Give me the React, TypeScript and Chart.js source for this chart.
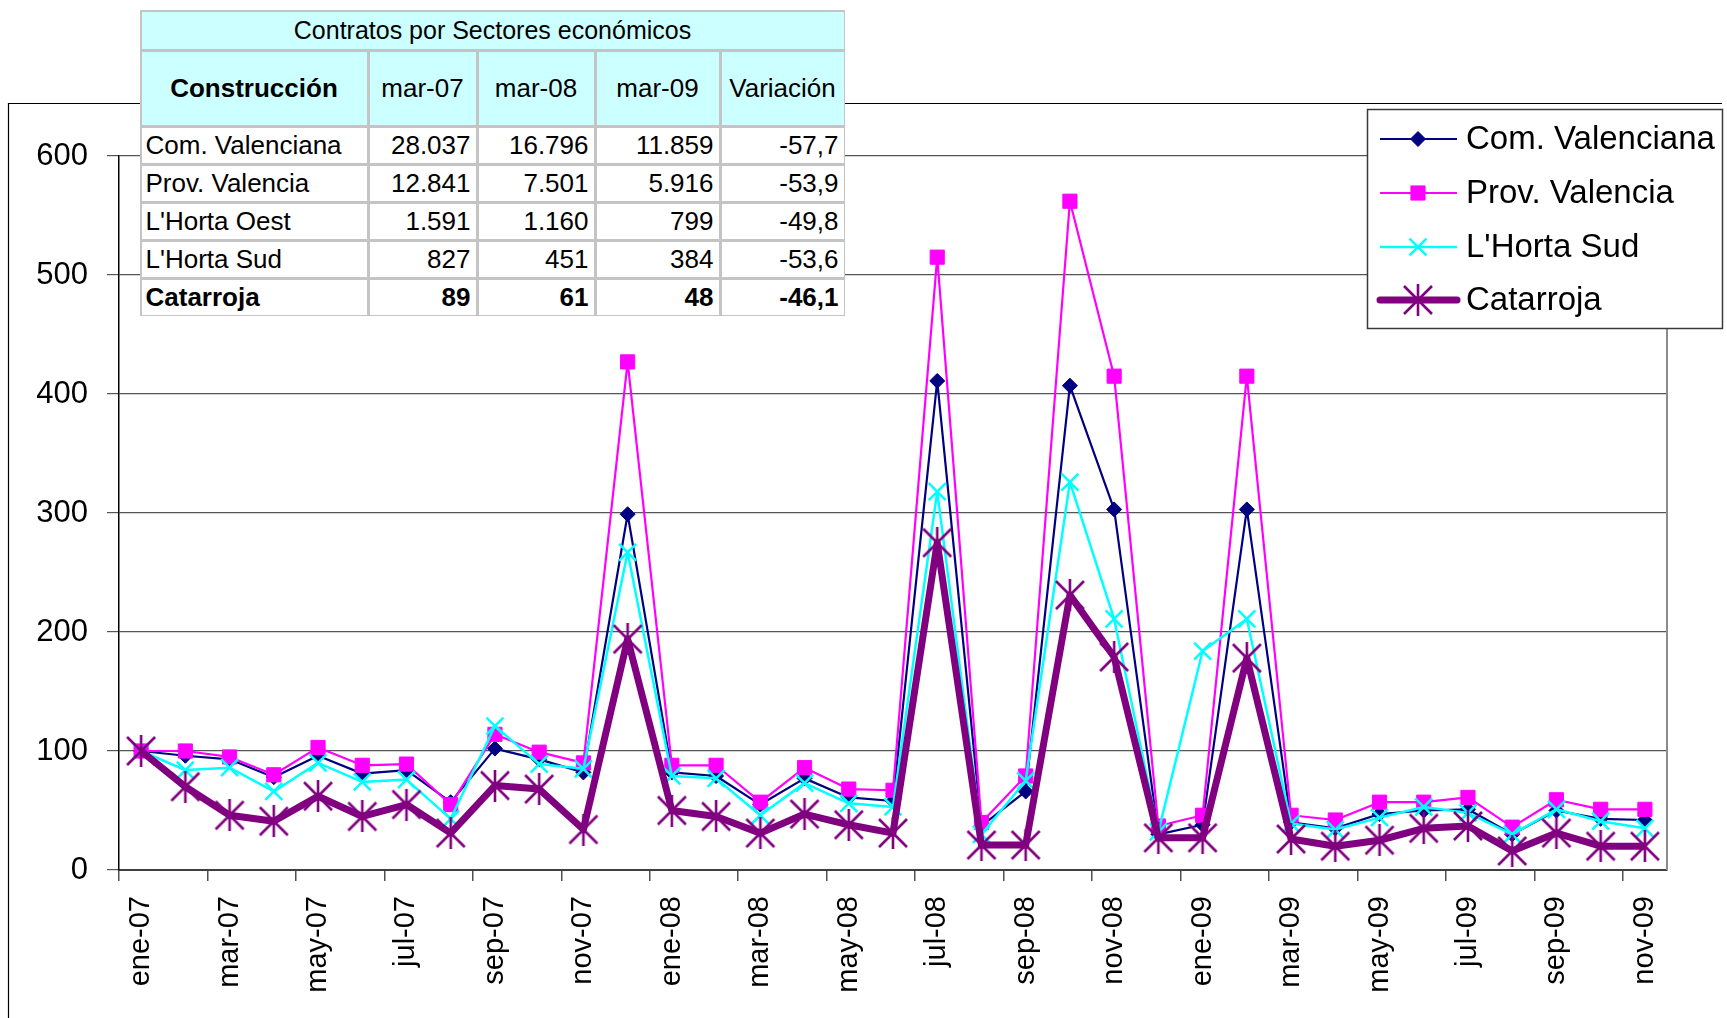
import React, { useEffect, useRef } from 'react';
import { Chart, registerables } from 'chart.js';
import { drawPoint } from 'chart.js/helpers';

Chart.register(...registerables);

// ---------- data ----------
const months = [
  'ene-07', 'feb-07', 'mar-07', 'abr-07', 'may-07', 'jun-07', 'jul-07', 'ago-07', 'sep-07', 'oct-07', 'nov-07', 'dic-07',
  'ene-08', 'feb-08', 'mar-08', 'abr-08', 'may-08', 'jun-08', 'jul-08', 'ago-08', 'sep-08', 'oct-08', 'nov-08', 'dic-08',
  'ene-09', 'feb-09', 'mar-09', 'abr-09', 'may-09', 'jun-09', 'jul-09', 'ago-09', 'sep-09', 'oct-09', 'nov-09',
];

const comValenciana = [100, 96, 93, 78, 96, 81, 84, 57, 102, 93, 82, 299, 82, 79, 55, 77, 61, 58, 411, 37, 66, 407, 303, 30, 38, 303, 40, 35, 47, 50, 51, 30, 50, 43, 42];
const provValencia = [100, 100, 95, 80, 103, 88, 89, 55, 114, 99, 90, 427, 88, 88, 57, 86, 68, 67, 515, 40, 79, 562, 415, 37, 46, 415, 46, 42, 57, 57, 61, 36, 59, 51, 51];
const hortaSud = [100, 84, 86, 66, 90, 74, 76, 43, 121, 89, 85, 267, 79, 77, 46, 73, 56, 53, 318, 30, 75, 326, 211, 32, 184, 211, 39, 34, 44, 53, 48, 30, 51, 41, 35];
const catarroja = [100, 70, 46, 41, 62, 45, 55, 31, 71, 68, 34, 194, 50, 45, 31, 47, 38, 31, 275, 21, 21, 231, 179, 27, 27, 178, 26, 20, 25, 35, 37, 16, 31, 20, 20];

const seriesNames = ['Com. Valenciana', 'Prov. Valencia', "L'Horta Sud", 'Catarroja'];
const yTicks = [0, 100, 200, 300, 400, 500, 600];

// table
const tableTitle = 'Contratos por Sectores económicos';
const tableHeader = ['Construcción', 'mar-07', 'mar-08', 'mar-09', 'Variación'];
const rowNames = ['Com. Valenciana', 'Prov. Valencia', "L'Horta Oest", "L'Horta Sud", 'Catarroja'];
const colMar07 = ['28.037', '12.841', '1.591', '827', '89'];
const colMar08 = ['16.796', '7.501', '1.160', '451', '61'];
const colMar09 = ['11.859', '5.916', '799', '384', '48'];
const colVariacion = ['-57,7', '-53,9', '-49,8', '-53,6', '-46,1'];

// ---------- layout ----------
const W = 1727;
const H = 1018;
const FONT = '"Liberation Sans", Arial, sans-serif';

const colEdges = [140, 368, 477, 595, 720, 845];
const rowEdges = [10, 50, 126, 164, 202, 240, 278, 316];

function makeStar(color: string) {
  const c = document.createElement('canvas');
  c.width = 32;
  c.height = 32;
  const g = c.getContext('2d')!;
  g.strokeStyle = color;
  g.lineWidth = 2.6;
  g.lineCap = 'butt';
  g.beginPath();
  g.moveTo(2, 2); g.lineTo(30, 30);
  g.moveTo(30, 2); g.lineTo(2, 30);
  g.moveTo(16, 0); g.lineTo(16, 32);
  g.stroke();
  return c;
}

const decorPlugin = {
  id: 'excelDecor',
  beforeDraw(chart: any) {
    const ctx = chart.ctx;
    ctx.save();
    ctx.fillStyle = '#ffffff';
    ctx.fillRect(0, 0, chart.width, chart.height);
    ctx.strokeStyle = '#000000';
    ctx.lineWidth = 1.2;
    ctx.beginPath();
    ctx.moveTo(8.5, chart.height + 10);
    ctx.lineTo(8.5, 103.5);
    ctx.lineTo(1722, 103.5);
    ctx.stroke();
    ctx.restore();
  },
  afterDraw(chart: any) {
    const { ctx, chartArea } = chart;
    ctx.save();
    // plot-area right border
    ctx.strokeStyle = '#8c8c8c';
    ctx.lineWidth = 2;
    ctx.beginPath();
    ctx.moveTo(chartArea.right, chartArea.top);
    ctx.lineTo(chartArea.right, chartArea.bottom);
    ctx.stroke();

    // legend box
    const bx = 1367, by = 109, bw = 1722 - 1367, bh = 328 - 109;
    ctx.fillStyle = '#ffffff';
    ctx.fillRect(bx, by, bw, bh);
    ctx.strokeStyle = '#3a3a3a';
    ctx.lineWidth = 1.5;
    ctx.strokeRect(bx + 0.5, by + 0.5, bw, bh);

    const rowsY = [139, 193, 247, 300];
    chart.data.datasets.forEach((ds: any, i: number) => {
      const y = rowsY[i];
      ctx.strokeStyle = ds.borderColor;
      ctx.lineWidth = ds.borderWidth;
      ctx.lineCap = i === 3 ? 'round' : 'butt';
      ctx.beginPath();
      ctx.moveTo(1380, y);
      ctx.lineTo(1457, y);
      ctx.stroke();
      ctx.fillStyle = ds.pointBackgroundColor;
      ctx.strokeStyle = ds.pointBorderColor;
      ctx.lineWidth = ds.pointBorderWidth;
      drawPoint(ctx, { pointStyle: ds.pointStyle, rotation: 0, radius: ds.pointRadius, borderWidth: ds.pointBorderWidth }, 1418, y);
      ctx.fillStyle = '#000000';
      ctx.font = `33px ${FONT}`;
      ctx.textBaseline = 'middle';
      ctx.textAlign = 'left';
      ctx.fillText(ds.label, 1466, y + 1);
    });
    ctx.restore();
  },
};

function DataTable() {
  const cells: React.ReactNode[] = [];
  const cell = (key: string, c0: number, c1: number, r: number, text: string, opts: any) => {
    const x0 = colEdges[c0];
    const x1 = colEdges[c1];
    const y0 = rowEdges[r];
    const y1 = rowEdges[r + 1];
    cells.push(
      <div
        key={key}
        style={{
          position: 'absolute',
          left: x0 + 1.5,
          top: y0 + 1.5,
          width: x1 - x0 - 3,
          height: y1 - y0 - 3,
          background: opts.bg,
          display: 'flex',
          alignItems: 'center',
          justifyContent: opts.align,
          boxSizing: 'border-box',
          padding: opts.align === 'flex-start' ? '0 0 0 4px' : opts.align === 'flex-end' ? '0 5px 0 0' : 0,
          fontFamily: FONT,
          fontSize: opts.size,
          fontWeight: opts.bold ? 'bold' : 'normal',
          color: '#000',
          whiteSpace: 'nowrap',
          overflow: 'hidden',
        }}
      >
        {text}
      </div>
    );
  };
  const cyan = '#ccffff';
  cell('title', 0, 5, 0, tableTitle, { bg: cyan, align: 'center', size: 25 });
  tableHeader.forEach((h, i) => cell('h' + i, i, i + 1, 1, h, { bg: cyan, align: 'center', size: 26, bold: i === 0 }));
  rowNames.forEach((name, r) => {
    const bold = r === rowNames.length - 1;
    cell('n' + r, 0, 1, r + 2, name, { bg: '#fff', align: 'flex-start', size: 26, bold });
    cell('a' + r, 1, 2, r + 2, colMar07[r], { bg: '#fff', align: 'flex-end', size: 26, bold });
    cell('b' + r, 2, 3, r + 2, colMar08[r], { bg: '#fff', align: 'flex-end', size: 26, bold });
    cell('c' + r, 3, 4, r + 2, colMar09[r], { bg: '#fff', align: 'flex-end', size: 26, bold });
    cell('d' + r, 4, 5, r + 2, colVariacion[r], { bg: '#fff', align: 'flex-end', size: 26, bold });
  });
  return (
    <div style={{ position: 'absolute', left: 0, top: 0 }}>
      <div
        style={{
          position: 'absolute',
          left: colEdges[0],
          top: rowEdges[0],
          width: colEdges[colEdges.length - 1] - colEdges[0],
          height: rowEdges[rowEdges.length - 1] - rowEdges[0],
          background: '#c4c4c4',
        }}
      />
      {cells}
    </div>
  );
}

export default function App() {
  const canvasRef = useRef<HTMLCanvasElement | null>(null);

  useEffect(() => {
    if (!canvasRef.current) return;
    const star = makeStar('#800080');
    const chart = new Chart(canvasRef.current, {
      type: 'line',
      data: {
        labels: months,
        datasets: [
          {
            label: seriesNames[0],
            data: comValenciana,
            borderColor: '#000080',
            borderWidth: 2.2,
            pointStyle: 'rectRot',
            pointRadius: 7.5,
            pointBackgroundColor: '#000080',
            pointBorderColor: '#000080',
            pointBorderWidth: 1,
            order: 3,
            tension: 0,
          },
          {
            label: seriesNames[1],
            data: provValencia,
            borderColor: '#ff00ff',
            borderWidth: 2.2,
            pointStyle: 'rect',
            pointRadius: 10,
            pointBackgroundColor: '#ff00ff',
            pointBorderColor: '#ff00ff',
            pointBorderWidth: 1,
            order: 2,
            tension: 0,
          },
          {
            label: seriesNames[2],
            data: hortaSud,
            borderColor: '#00ffff',
            borderWidth: 2.5,
            pointStyle: 'crossRot',
            pointRadius: 12,
            pointBackgroundColor: '#00ffff',
            pointBorderColor: '#00ffff',
            pointBorderWidth: 2.5,
            order: 1,
            tension: 0,
          },
          {
            label: seriesNames[3],
            data: catarroja,
            borderColor: '#800080',
            borderWidth: 7,
            borderJoinStyle: 'round',
            pointStyle: star as any,
            pointRadius: 15,
            pointBackgroundColor: '#800080',
            pointBorderColor: '#800080',
            pointBorderWidth: 2.6,
            order: 0,
            tension: 0,
          },
        ] as any,
      },
      options: {
        responsive: false,
        animation: false,
        devicePixelRatio: 1,
        layout: { padding: { top: 156, right: 60, left: 0, bottom: 0 } },
        plugins: {
          legend: { display: false },
          title: { display: false },
          tooltip: { enabled: false },
        },
        elements: { line: { borderJoinStyle: 'round' } },
        scales: {
          x: {
            type: 'category',
            offset: true,
            grid: {
              offset: true,
              drawOnChartArea: false,
              drawTicks: true,
              tickLength: 11,
              lineWidth: 1.5,
              color: (ctx: any) => (ctx.index % 2 === 0 ? '#505050' : 'rgba(0,0,0,0)'),
            },
            border: { display: true, color: '#404040', width: 2 },
            ticks: {
              autoSkip: false,
              maxRotation: 90,
              minRotation: 90,
              padding: 15,
              color: '#000',
              font: { family: FONT, size: 29 },
              callback: (_v: any, i: number) => (i % 2 === 0 ? months[i] : ''),
            },
            afterFit: (scale: any) => {
              scale.height = H - 870;
            },
          },
          y: {
            min: 0,
            max: 600,
            afterBuildTicks: (scale: any) => {
              scale.ticks = yTicks.map((v) => ({ value: v }));
            },
            grid: {
              color: '#555555',
              lineWidth: 1.2,
              drawTicks: true,
              tickLength: 12,
            },
            border: { display: true, color: '#000', width: 1.5 },
            ticks: {
              padding: 19,
              color: '#000',
              font: { family: FONT, size: 31 },
            },
            afterFit: (scale: any) => {
              scale.width = 119;
            },
          },
        },
      } as any,
      plugins: [decorPlugin],
    });
    return () => chart.destroy();
  }, []);

  return (
    <div style={{ position: 'fixed', left: 0, top: 0, width: W, height: H, background: '#fff', overflow: 'hidden' }}>
      <canvas ref={canvasRef} width={W} height={H} style={{ width: W, height: H, display: 'block' }} />
      <DataTable />
    </div>
  );
}
